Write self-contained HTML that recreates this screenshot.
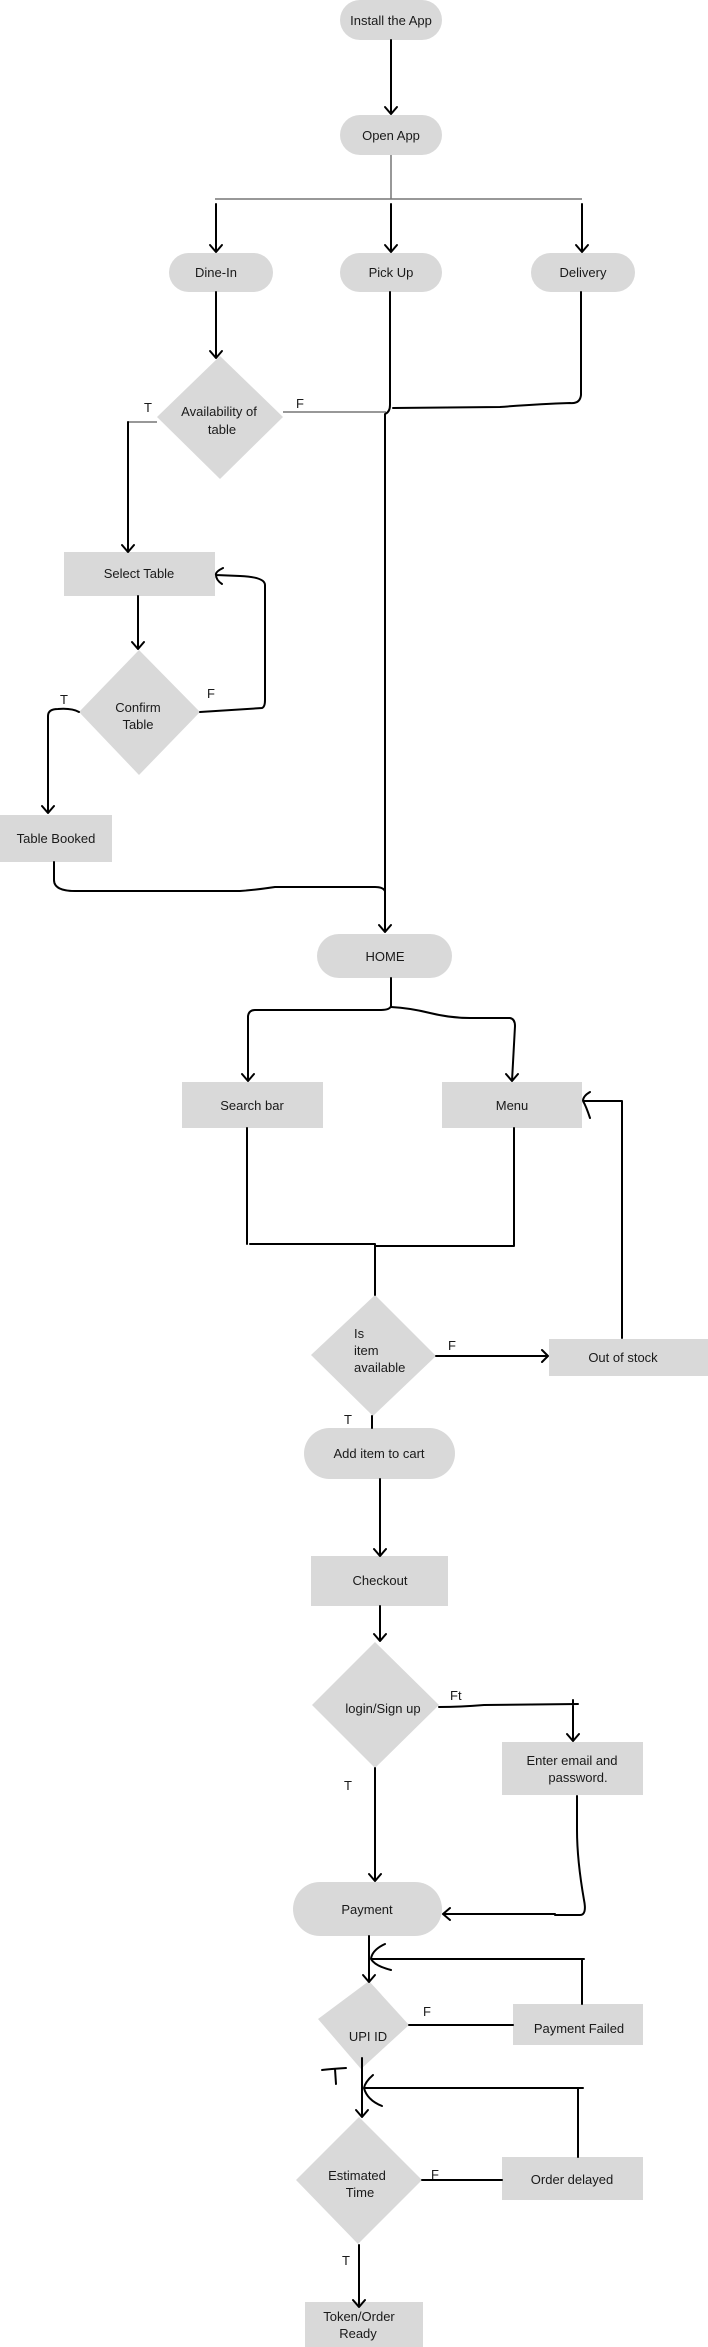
<!DOCTYPE html>
<html><head><meta charset="utf-8"><style>
html,body{margin:0;padding:0;background:#fff;width:708px;height:2347px;overflow:hidden}
svg text{font-family:"Liberation Sans",sans-serif;font-size:13px;fill:#1a1a1a}
</style></head><body>
<svg width="708" height="2347" viewBox="0 0 708 2347" xmlns="http://www.w3.org/2000/svg">
<g fill="#d9d9d9">
<rect x="340" y="0" width="102" height="40" rx="20"/>
<rect x="340" y="115" width="102" height="40" rx="20"/>
<rect x="169" y="253" width="104" height="39" rx="19.5"/>
<rect x="340" y="253" width="102" height="39" rx="19.5"/>
<rect x="531" y="253" width="104" height="39" rx="19.5"/>
<polygon points="220,356 283,417 220,479 157,417"/>
<rect x="64" y="552" width="151" height="44"/>
<polygon points="139,650 200,712 139,775 79,712"/>
<rect x="0" y="815" width="112" height="47"/>
<rect x="317" y="934" width="135" height="44" rx="22"/>
<rect x="182" y="1082" width="141" height="46"/>
<rect x="442" y="1082" width="140" height="46"/>
<polygon points="375,1295 436,1356 373,1416 311,1355"/>
<rect x="549" y="1339" width="159" height="37"/>
<rect x="304" y="1428" width="151" height="51" rx="25.5"/>
<rect x="311" y="1556" width="137" height="50"/>
<polygon points="375,1642 439,1705 375,1768 312,1705"/>
<rect x="502" y="1742" width="141" height="53"/>
<rect x="293" y="1882" width="149" height="54" rx="27"/>
<polygon points="369,1981 409,2025 361,2069 318,2019"/>
<rect x="513" y="2004" width="130" height="41"/>
<polygon points="359,2117 422,2180 358,2244 296,2180"/>
<rect x="502" y="2157" width="141" height="43"/>
<rect x="305" y="2302" width="118" height="45"/>
</g>
<g fill="none" stroke="#777" stroke-width="1.5">
<path d="M391 155 V199 M215 199 H582 M157 422 H128 M283 412 H386"/>
</g>
<g fill="none" stroke="#000" stroke-width="2" stroke-linecap="round" stroke-linejoin="round">
<path d="M391 40 V114 M385 107 L391 114 L397 107"/>
<path d="M216 204 V252 M210 245 L216 252 L222 245"/>
<path d="M391 204 V252 M385 245 L391 252 L397 245"/>
<path d="M582 204 V252 M576 245 L582 252 L588 245"/>
<path d="M216 292 V358 M210 351 L216 358 L222 351"/>
<path d="M128 422 V552 M122 545 L128 552 L134 545"/>
<path d="M390 292 V405 Q390 412 385 414 V932 M379 925 L385 932 L391 925"/>
<path d="M581 292 V395 Q580 404 570 403 Q540 404 500 407 L393 408"/>
<path d="M138 596 V649 M132 642 L138 649 L144 642"/>
<path d="M200 712 L262 708 Q265 707 265 700 V585 Q265 577 240 576 L216 575 M223 568 Q215 572 216 575 Q216 580 222 584"/>
<path d="M79 712 Q72 708 58 709 Q48 709 48 716 V813 M42 806 L48 813 L54 806"/>
<path d="M54 862 V880 Q54 891 75 891 H240 Q255 890 275 887 H375 Q383 887 385 891"/>
<path d="M391 978 V1006 Q390 1010 380 1010 H255 Q249 1010 248 1016 V1081 M242 1074 L248 1081 L254 1074"/>
<path d="M391 1007 Q410 1008 430 1013 Q450 1018 470 1018 H510 Q515 1019 515 1026 L512 1081 M506 1074 L512 1081 L518 1074"/>
<path d="M247 1128 V1244 M250 1244 H375 V1295 M375 1246 H514 V1128"/>
<path d="M622 1338 V1101 H583 M590 1092 Q583 1096 583 1101 Q586 1106 590 1118"/>
<path d="M436 1356 H548 M542 1350 L548 1356 L542 1362"/>
<path d="M372 1416 V1428"/>
<path d="M380 1479 V1556 M374 1549 L380 1556 L386 1549"/>
<path d="M380 1606 V1641 M374 1634 L380 1641 L386 1634"/>
<path d="M439 1707 Q460 1707 484 1705 L578 1704 M573 1700 V1741 M567 1734 L573 1741 L579 1734"/>
<path d="M375 1768 V1881 M369 1874 L375 1881 L381 1874"/>
<path d="M577 1796 V1830 Q577 1860 584 1900 Q587 1915 580 1915 H555 M555 1914 H443 M450 1908 L443 1914 L450 1920"/>
<path d="M369 1936 V1982 M363 1975 L369 1982 L375 1975"/>
<path d="M371 1959 H584 M582 1959 V2004 M385 1944 Q372 1950 371 1959 Q375 1966 391 1970"/>
<path d="M409 2025 H513"/>
<path d="M362 2058 V2117 M356 2110 L362 2117 L368 2110"/>
<path d="M364 2088 H583 M578 2088 V2157 M373 2075 Q365 2082 364 2088 Q367 2100 382 2106"/>
<path d="M322 2070 Q330 2069 346 2068 M335 2069 L336 2084"/>
<path d="M422 2180 H502"/>
<path d="M359 2245 V2307 M353 2300 L359 2307 L365 2300"/>
</g>
<g text-anchor="middle">
<text x="391" y="25">Install the App</text>
<text x="391" y="140">Open App</text>
<text x="216" y="277">Dine-In</text>
<text x="391" y="277">Pick Up</text>
<text x="583" y="277">Delivery</text>
<text x="219" y="416">Availability of</text>
<text x="222" y="434">table</text>
<text x="139" y="578">Select Table</text>
<text x="138" y="712">Confirm</text>
<text x="138" y="729">Table</text>
<text x="56" y="843">Table Booked</text>
<text x="385" y="961">HOME</text>
<text x="252" y="1110">Search bar</text>
<text x="512" y="1110">Menu</text>
<text x="623" y="1362">Out of stock</text>
<text x="379" y="1458">Add item to cart</text>
<text x="380" y="1585">Checkout</text>
<text x="383" y="1713">login/Sign up</text>
<text x="572" y="1765">Enter email and</text>
<text x="578" y="1782">password.</text>
<text x="367" y="1914">Payment</text>
<text x="368" y="2041">UPI ID</text>
<text x="579" y="2033">Payment Failed</text>
<text x="357" y="2180">Estimated</text>
<text x="360" y="2197">Time</text>
<text x="572" y="2184">Order delayed</text>
<text x="359" y="2321">Token/Order</text>
<text x="358" y="2338">Ready</text>
</g>
<g font-size="12">
<text x="144" y="412">T</text>
<text x="296" y="408">F</text>
<text x="60" y="704">T</text>
<text x="207" y="698">F</text>
<text x="354" y="1338">Is</text>
<text x="354" y="1355">item</text>
<text x="354" y="1372">available</text>
<text x="448" y="1350">F</text>
<text x="344" y="1424">T</text>
<text x="450" y="1700">Ft</text>
<text x="344" y="1790">T</text>
<text x="423" y="2016">F</text>
<text x="431" y="2179">F</text>
<text x="342" y="2265">T</text>
</g>
</svg>
</body></html>
